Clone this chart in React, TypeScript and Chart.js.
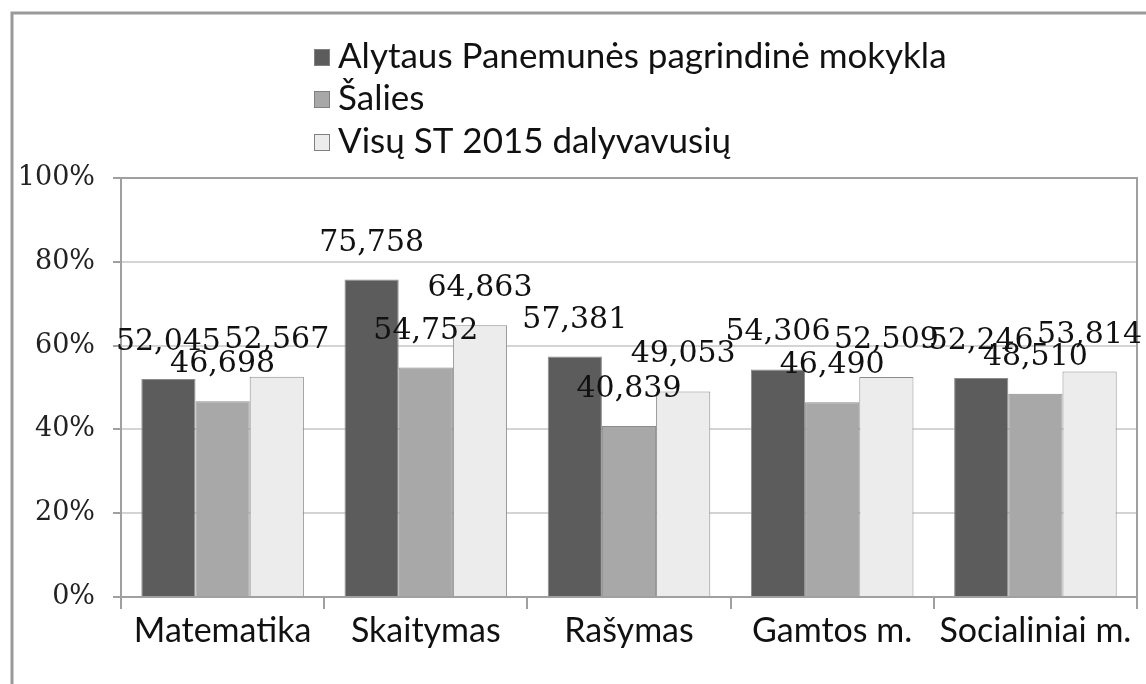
import React, { useEffect, useRef } from "react";
import { Chart, registerables } from "chart.js";

Chart.register(...registerables);

const categories = ["Matematika", "Skaitymas", "Rašymas", "Gamtos m.", "Socialiniai m."];
const seriesNames = ["Alytaus Panemunės pagrindinė mokykla", "Šalies", "Visų ST 2015 dalyvavusių"];
const schoolValues = [52.045, 75.758, 57.381, 54.306, 52.246];
const countryValues = [46.698, 54.752, 40.839, 46.49, 48.51];
const allValues = [52.567, 64.863, 49.053, 52.509, 53.814];
const seriesColors = ["#5c5c5c", "#a8a8a8", "#ececec"];
const yTicks = [0, 20, 40, 60, 80, 100];

const SANS = "Lato, 'Open Sans', sans-serif";
const SERIF = "'DejaVu Serif', serif";

const framePlugin = {
  id: "frame",
  beforeDraw(chart: any) {
    const ctx = chart.ctx;
    ctx.save();
    ctx.fillStyle = "#ffffff";
    ctx.fillRect(0, 0, chart.width, chart.height);
    ctx.strokeStyle = "#9a9a9a";
    ctx.lineWidth = 3;
    ctx.beginPath();
    ctx.moveTo(12, chart.height);
    ctx.lineTo(12, 13);
    ctx.lineTo(chart.width, 13);
    ctx.stroke();
    ctx.restore();
  },
  afterDraw(chart: any) {
    const ctx = chart.ctx;
    const a = chart.chartArea;
    ctx.save();
    ctx.strokeStyle = "#a0a0a0";
    ctx.lineWidth = 2;
    ctx.beginPath();
    ctx.moveTo(a.left, a.top);
    ctx.lineTo(a.right, a.top);
    ctx.lineTo(a.right, a.bottom);
    ctx.stroke();
    // legend
    const ds = chart.data.datasets;
    const rows = [57, 99, 142];
    ctx.font = "35px " + SANS;
    ctx.textBaseline = "middle";
    ctx.textAlign = "left";
    ds.forEach((d: any, i: number) => {
      const y = rows[i];
      ctx.fillStyle = d.backgroundColor;
      ctx.fillRect(314, y - 8, 16, 17);
      ctx.strokeStyle = "#808080";
      ctx.lineWidth = 1;
      ctx.strokeRect(314.5, y - 7.5, 15, 16);
      ctx.fillStyle = "#111111";
      ctx.fillText(d.label, 338, y);
    });
    // data labels
    ctx.font = "30px " + SERIF;
    ctx.textAlign = "center";
    ctx.textBaseline = "alphabetic";
    ctx.fillStyle = "#111111";
    ds.forEach((d: any, i: number) => {
      const meta = chart.getDatasetMeta(i);
      meta.data.forEach((bar: any, j: number) => {
        const txt = Number(d.data[j]).toFixed(3).replace(".", ",");
        ctx.fillText(txt, bar.x, bar.y - 29);
      });
    });
    ctx.restore();
  },
};

export default function App() {
  const ref = useRef<HTMLCanvasElement | null>(null);
  useEffect(() => {
    document.body.style.margin = "0";
    const canvas = ref.current;
    if (!canvas) return;
    const values = [schoolValues, countryValues, allValues];
    const chart = new Chart(canvas, {
      type: "bar",
      data: {
        labels: categories,
        datasets: seriesNames.map((name, i) => ({
          label: name,
          data: values[i],
          backgroundColor: seriesColors[i],
          borderColor: "#8c8c8c",
          borderWidth: 1,
          barPercentage: 1,
          categoryPercentage: 0.8,
        })),
      },
      options: {
        responsive: false,
        animation: false,
        devicePixelRatio: 1,
        layout: { padding: { top: 178, right: 9, left: 0, bottom: 0 } },
        plugins: { legend: { display: false }, tooltip: { enabled: false } },
        scales: {
          x: {
            afterFit(scale: any) {
              scale.height = 87;
            },
            grid: {
              display: true,
              offset: true,
              drawOnChartArea: false,
              drawTicks: true,
              tickLength: 12,
              color: "#a0a0a0",
              lineWidth: 2,
            },
            border: { display: true, color: "#a0a0a0", width: 2 },
            ticks: {
              color: "#111111",
              font: { family: SANS, size: 34 },
              padding: 2,
              maxRotation: 0,
              autoSkip: false,
            },
          },
          y: {
            min: 0,
            max: 100,
            afterFit(scale: any) {
              scale.width = 121;
            },
            afterBuildTicks(scale: any) {
              scale.ticks = yTicks.map((v) => ({ value: v }));
            },
            grid: {
              color: "#d4d4d4",
              lineWidth: 2,
              drawTicks: true,
              tickLength: 8,
              tickColor: "#a0a0a0",
            },
            border: { display: true, color: "#a0a0a0", width: 2 },
            ticks: {
              color: "#222222",
              font: { family: SERIF, size: 27 },
              padding: 18,
              callback: (v: any) => v + "%",
            },
          },
        },
      },
      plugins: [framePlugin],
    });
    return () => chart.destroy();
  }, []);
  return <canvas ref={ref} width={1146} height={684} style={{ display: "block" }} />;
}
